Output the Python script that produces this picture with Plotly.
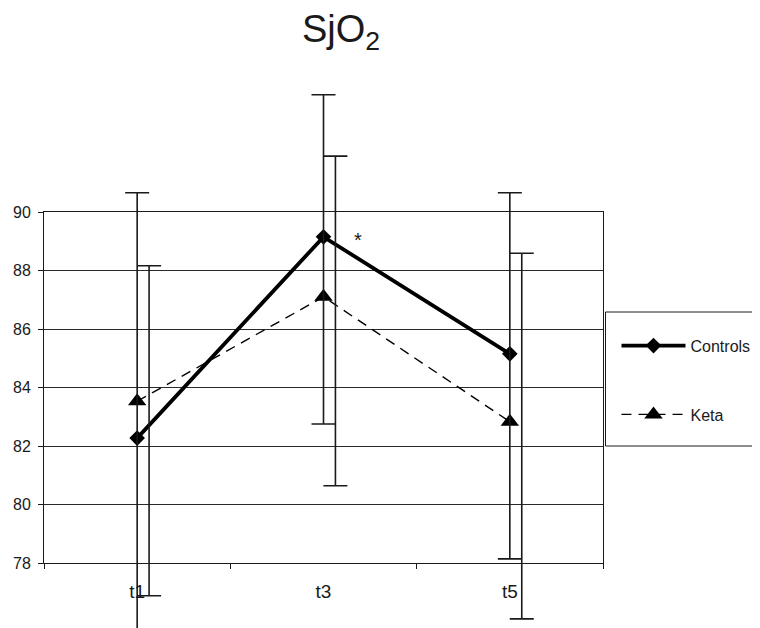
import plotly.graph_objects as go

categories = ["t1", "t3", "t5"]
cat_pos = [0, 1, 2]
controls = [82.27, 89.15, 85.15]
keta = [83.53, 87.10, 82.83]
controls_err_plus = [8.39, 4.86, 5.51]
controls_err_minus = [8.39, 6.40, 7.01]
keta_err_plus = [4.63, 4.81, 5.76]
keta_err_minus = [6.65, 6.46, 6.74]
y_ticks = [78, 80, 82, 84, 86, 88, 90]

KETA_BAR_OFFSET = 0.064
FONT = "Liberation Sans, Arial, sans-serif"
INK = "#1a1a1a"

# geometry (figure pixels; page body adds an 8px offset)
W, H = 752, 620
M_T, M_B, M_L, M_R = 60, 0, 36, 157
PLOT_TOP, PLOT_BOT = 204, 555
Y_MIN, Y_MAX = 78, 90
area_h = H - M_T - M_B
px_per_unit = (PLOT_BOT - PLOT_TOP) / (Y_MAX - Y_MIN)
dom0 = (H - M_B - PLOT_BOT) / area_h
dom1 = (H - M_B - PLOT_TOP) / area_h
y2_lo = Y_MIN - (H - M_B - PLOT_BOT) / px_per_unit
y2_hi = Y_MAX + (PLOT_TOP - M_T) / px_per_unit
plot_w = W - M_L - M_R

fig = go.Figure()

fig.add_trace(go.Scatter(
    x=cat_pos, y=controls, name="Controls", mode="lines+markers",
    line=dict(color="black", width=3.8),
    marker=dict(symbol="diamond", size=12, color="black"),
    cliponaxis=False, legendgroup="a"))
fig.add_trace(go.Scatter(
    x=cat_pos, y=keta, name="Keta", mode="lines+markers",
    line=dict(color="black", width=1.4, dash="10px,7px"),
    marker=dict(symbol="triangle-up", size=16, color="black"),
    cliponaxis=False, legendgroup="b"))

# error bars on a taller hidden axis with the same scale, so they may pass the frame
fig.add_trace(go.Scatter(
    x=cat_pos, y=controls, mode="markers", marker=dict(size=1, opacity=0),
    xaxis="x", yaxis="y2", showlegend=False, hoverinfo="skip",
    error_y=dict(type="data", symmetric=False, array=controls_err_plus,
                 arrayminus=controls_err_minus, color=INK, thickness=1.6, width=12)))
fig.add_trace(go.Scatter(
    x=[p + KETA_BAR_OFFSET for p in cat_pos], y=keta, mode="markers",
    marker=dict(size=1, opacity=0),
    xaxis="x", yaxis="y2", showlegend=False, hoverinfo="skip",
    error_y=dict(type="data", symmetric=False, array=keta_err_plus,
                 arrayminus=keta_err_minus, color=INK, thickness=1.6, width=12)))

fig.add_annotation(x=1, y=controls[1], xref="x", yref="y", text="*",
                   showarrow=False, xshift=34, yshift=-3,
                   font=dict(size=20, color=INK, family=FONT))

# legend frame
def px_to_paper_x(px):
    return (px - M_L) / plot_w

def px_to_paper_y(py):
    return (H - M_B - py) / area_h

fig.add_shape(type="rect", xref="paper", yref="paper",
              x0=px_to_paper_x(597.5), x1=px_to_paper_x(756),
              y0=px_to_paper_y(438), y1=px_to_paper_y(304),
              line=dict(color=INK, width=1), fillcolor="white", layer="below")

fig.update_layout(
    width=W, height=H,
    margin=dict(l=M_L, r=M_R, t=M_T, b=M_B, autoexpand=False),
    paper_bgcolor="white", plot_bgcolor="rgba(0,0,0,0)",
    font=dict(family=FONT, color=INK),
    title=dict(text="SjO<sub>2</sub>", x=333 / W, xanchor="center",
               y=1 - 7 / H, yanchor="top", yref="container",
               font=dict(size=38, family=FONT, color=INK)),
    showlegend=True,
    legend=dict(x=px_to_paper_x(608.5), y=px_to_paper_y(320.7), xanchor="left", yanchor="top",
                bgcolor="rgba(0,0,0,0)", borderwidth=0,
                font=dict(size=16, family=FONT, color=INK),
                traceorder="grouped", tracegroupgap=45, itemwidth=64),
    xaxis=dict(range=[-0.5, 2.5], tickvals=cat_pos, ticktext=categories,
               ticks="", showgrid=False, zeroline=False, anchor="y",
               showline=True, linecolor=INK, linewidth=1, mirror=True,
               tickfont=dict(size=19, family=FONT, color=INK),
               ticklabelstandoff=11,
               minor=dict(tickvals=[-0.5, 0.5, 1.5, 2.5], ticks="outside",
                          ticklen=5, tickcolor=INK, tickwidth=1, showgrid=False)),
    yaxis=dict(range=[Y_MIN, Y_MAX], domain=[dom0, dom1], anchor="x",
               tickvals=y_ticks, ticks="outside", ticklen=5,
               tickcolor=INK, tickwidth=1,
               showgrid=True, gridcolor="#2a2a2a", gridwidth=1, zeroline=False,
               showline=True, linecolor=INK, linewidth=1, mirror=True,
               tickfont=dict(size=16, family=FONT, color=INK),
               ticklabelstandoff=4),
    yaxis2=dict(range=[y2_lo, y2_hi], domain=[0, 1], anchor="x",
                visible=False, showgrid=False, zeroline=False, fixedrange=True),
)

fig.write_html("out.html")
